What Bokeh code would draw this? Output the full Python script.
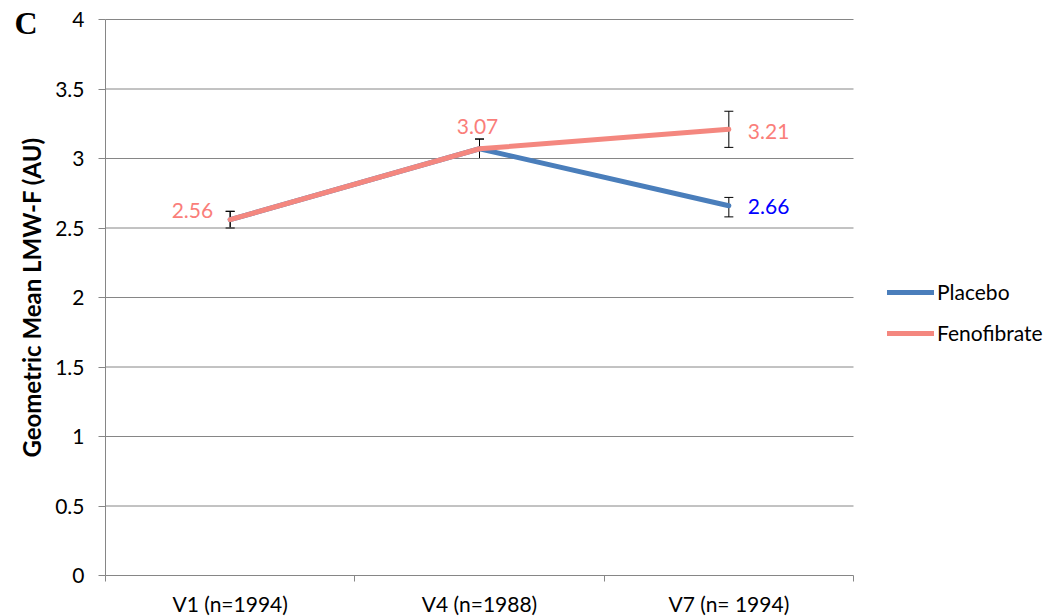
from bokeh.plotting import figure
from bokeh.models import (ColumnDataSource, Whisker, TeeHead, Legend, LegendItem,
                          FixedTicker, Label, Range1d, LinearAxis)
from bokeh.core.properties import value
from bokeh.embed import file_html
from bokeh.resources import INLINE

# Visits and geometric means of LMW-F (AU) with their confidence limits
visits = ["V1 (n=1994)", "V4 (n=1988)", "V7 (n= 1994)"]
placebo = [2.56, 3.07, 2.66]
placebo_lo = [2.50, 3.00, 2.58]
placebo_hi = [2.62, 3.14, 2.72]
fenofibrate = [2.56, 3.07, 3.21]
fenofibrate_lo = [2.50, 3.00, 3.08]
fenofibrate_hi = [2.62, 3.14, 3.34]
y_ticks = [0, 0.5, 1, 1.5, 2, 2.5, 3, 3.5, 4]

BLUE = "#4A7EBB"
SALMON = "#F4877F"
SALMON_TEXT = "#FA7E7A"
GRID = "#868686"
FONT = "Lato"

W, H = 1056, 616
# plotting area inside the canvas (px)
LEFT, RIGHT, TOP, BOTTOM = 105, 853, 19, 575
n = len(visits)
y_max = y_ticks[-1]
px_x = (RIGHT - LEFT) / n
px_y = (BOTTOM - TOP) / y_max

xs = [i + 0.5 for i in range(n)]

# the frame fills the whole canvas; axes sit at fixed data positions inside it
p = figure(width=W, height=H, output_backend="svg", toolbar_location=None,
           x_range=Range1d(-LEFT / px_x, (W - LEFT) / px_x),
           y_range=Range1d(-(H - BOTTOM) / px_y, y_max + TOP / px_y),
           min_border=0, x_axis_type=None, y_axis_type=None)
p.outline_line_color = None
p.background_fill_color = "white"
p.border_fill_color = "white"
p.xgrid.visible = False
p.ygrid.visible = False

xaxis = LinearAxis(fixed_location=0, bounds=(0, n))
xaxis.ticker = FixedTicker(ticks=xs, minor_ticks=list(range(n + 1)))
xaxis.major_label_overrides = {x: v for x, v in zip(xs, visits)}
xaxis.major_tick_line_color = None
xaxis.minor_tick_out = 6
xaxis.minor_tick_in = 0
xaxis.minor_tick_line_color = GRID
xaxis.axis_line_color = GRID
xaxis.major_label_text_font = FONT
xaxis.major_label_text_font_size = "21px"
xaxis.major_label_text_color = "#000000"
xaxis.major_label_standoff = 9
p.add_layout(xaxis, "below")

yaxis = LinearAxis(fixed_location=0, bounds=(0, y_max))
yaxis.ticker = FixedTicker(ticks=y_ticks, minor_ticks=[])
yaxis.major_label_overrides = {t: ("%g" % t) for t in y_ticks}
yaxis.major_tick_out = 7
yaxis.major_tick_in = 0
yaxis.major_tick_line_color = GRID
yaxis.axis_line_color = GRID
yaxis.major_label_text_font = FONT
yaxis.major_label_text_font_size = "21px"
yaxis.major_label_text_color = "#000000"
yaxis.major_label_standoff = 14
yaxis.axis_label = "Geometric Mean LMW-F (AU)"
yaxis.axis_label_text_font = FONT
yaxis.axis_label_text_font_style = "bold"
yaxis.axis_label_text_font_size = "24px"
yaxis.axis_label_text_color = "#000000"
yaxis.axis_label_standoff = 6
p.add_layout(yaxis, "left")

# horizontal gridlines across the plotting area only
grid_y = y_ticks[1:]
grid_src = ColumnDataSource(dict(x0=[0] * len(grid_y), x1=[n] * len(grid_y), y=grid_y))
p.segment(x0="x0", y0="y", x1="x1", y1="y", source=grid_src, line_color=GRID, line_width=1)

# series lines
placebo_src = ColumnDataSource(dict(x=xs, y=placebo, lo=placebo_lo, hi=placebo_hi))
feno_src = ColumnDataSource(dict(x=xs, y=fenofibrate, lo=fenofibrate_lo, hi=fenofibrate_hi))

r_placebo = p.line("x", "y", source=placebo_src, line_color=BLUE, line_width=5,
                   line_join="round", line_cap="round")
r_feno = p.line("x", "y", source=feno_src, line_color=SALMON, line_width=5,
                line_join="round", line_cap="round")

# confidence interval whiskers
for src in (placebo_src, feno_src):
    w = Whisker(base="x", lower="lo", upper="hi", source=src,
                line_color="black", line_width=1,
                upper_head=TeeHead(size=9, line_color="black", line_width=1),
                lower_head=TeeHead(size=9, line_color="black", line_width=1))
    p.add_layout(w)

# value labels
lab_font = value(FONT)
p.text(x=[xs[0]], y=[fenofibrate[0]], text=["%.2f" % fenofibrate[0]],
       text_align="right", text_baseline="middle", x_offset=-17, y_offset=-9,
       text_color=SALMON_TEXT, text_font=lab_font, text_font_size="21px")
p.text(x=[xs[1]], y=[fenofibrate[1]], text=["%.2f" % fenofibrate[1]],
       text_align="center", text_baseline="middle", x_offset=-2, y_offset=-22,
       text_color=SALMON_TEXT, text_font=lab_font, text_font_size="21px")
p.text(x=[xs[2]], y=[fenofibrate[2]], text=["%.2f" % fenofibrate[2]],
       text_align="left", text_baseline="middle", x_offset=19, y_offset=2,
       text_color=SALMON_TEXT, text_font=lab_font, text_font_size="21px")
p.text(x=[xs[2]], y=[placebo[2]], text=["%.2f" % placebo[2]],
       text_align="left", text_baseline="middle", x_offset=19, y_offset=1,
       text_color="#0000FF", text_font=lab_font, text_font_size="21px")

# panel letter
p.add_layout(Label(x=14, y=H - 22, x_units="screen", y_units="screen", text="C",
                   text_align="left", text_baseline="middle",
                   text_font="Liberation Serif", text_font_style="bold",
                   text_font_size="32px", text_color="#000000"))

legend = Legend(items=[LegendItem(label="Placebo", renderers=[r_placebo]),
                       LegendItem(label="Fenofibrate", renderers=[r_feno])],
                location=(887, H - 345), orientation="vertical",
                glyph_width=47, glyph_height=20, label_height=20, label_standoff=3,
                spacing=16, padding=0, margin=0,
                border_line_color=None, background_fill_alpha=0,
                label_text_font=FONT, label_text_font_size="21px",
                label_text_color="#000000")
p.add_layout(legend)

open("out.html", "w").write(file_html(p, INLINE))
